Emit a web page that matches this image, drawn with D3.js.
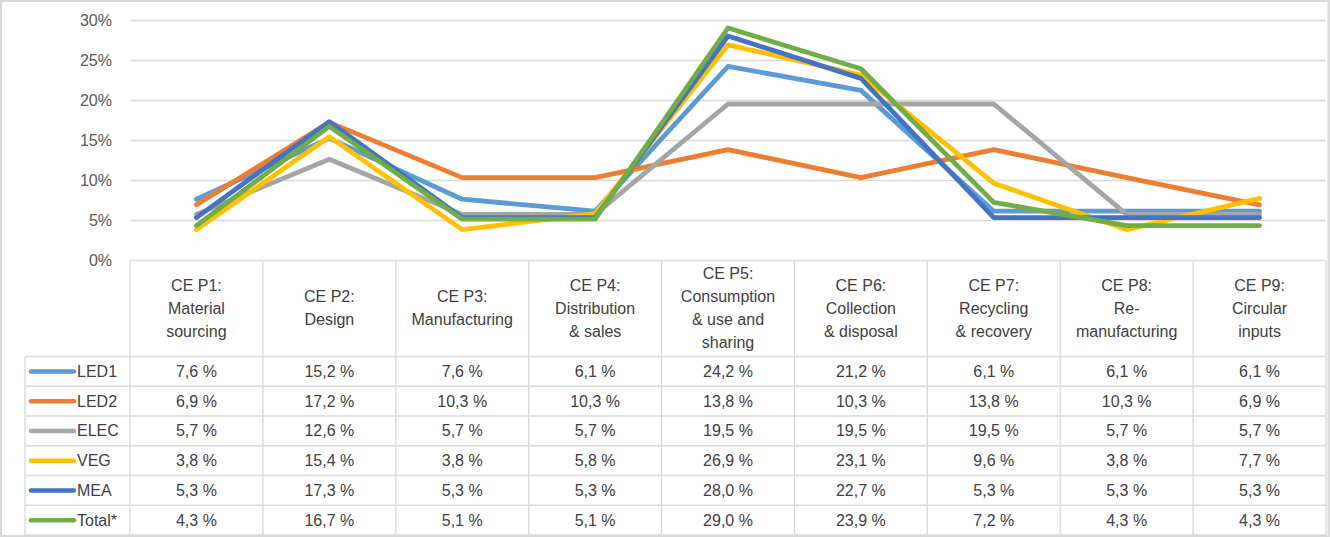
<!DOCTYPE html>
<html><head><meta charset="utf-8">
<script src="https://cdn.jsdelivr.net/npm/d3@7"></script>
<style>body{margin:0;background:#fff}svg{display:block}text{font-family:"Liberation Sans",Arial,sans-serif}</style>
</head><body><svg id="c" width="1330" height="537"></svg>
<script>
const categories = [
  ["CE P1:", "Material", "sourcing"],
  ["CE P2:", "Design"],
  ["CE P3:", "Manufacturing"],
  ["CE P4:", "Distribution", "& sales"],
  ["CE P5:", "Consumption", "& use and", "sharing"],
  ["CE P6:", "Collection", "& disposal"],
  ["CE P7:", "Recycling", "& recovery"],
  ["CE P8:", "Re-", "manufacturing"],
  ["CE P9:", "Circular", "inputs"]
];
const seriesNames = ["LED1", "LED2", "ELEC", "VEG", "MEA", "Total*"];
const seriesColors = ["#5B9BD5", "#ED7D31", "#A5A5A5", "#FFC000", "#4472C4", "#70AD47"];
const LED1 = [7.6, 15.2, 7.6, 6.1, 24.2, 21.2, 6.1, 6.1, 6.1];
const LED2 = [6.9, 17.2, 10.3, 10.3, 13.8, 10.3, 13.8, 10.3, 6.9];
const ELEC = [5.7, 12.6, 5.7, 5.7, 19.5, 19.5, 19.5, 5.7, 5.7];
const VEG = [3.8, 15.4, 3.8, 5.8, 26.9, 23.1, 9.6, 3.8, 7.7];
const MEA = [5.3, 17.3, 5.3, 5.3, 28.0, 22.7, 5.3, 5.3, 5.3];
const Total = [4.3, 16.7, 5.1, 5.1, 29.0, 23.9, 7.2, 4.3, 4.3];
const yTicks = [0, 5, 10, 15, 20, 25, 30];

const series = [LED1, LED2, ELEC, VEG, MEA, Total];
const svg = d3.select("#c");
const grid = "#D9D9D9";
const L = 130, R = 1326, T = 20, B = 260;
const tableBottom = 535, legendLeft = 25, headerBottom = 356.5;

// outer border
svg.append("rect").attr("x",1).attr("y",1).attr("width",1327.5).attr("height",535)
  .attr("fill","none").attr("stroke",grid).attr("stroke-width",2);

const x = d3.scaleBand().domain(d3.range(categories.length)).range([L, R]);
const y = d3.scaleLinear().domain([0, 30]).range([B, T]);

// gridlines
svg.append("g").selectAll("line").data(yTicks.filter(d=>d>0)).join("line")
  .attr("x1",L).attr("x2",R).attr("y1",d=>Math.round(y(d))+0.5).attr("y2",d=>Math.round(y(d))+0.5)
  .attr("stroke",grid).attr("stroke-width",1.3);

// y axis labels
const yAxis = d3.axisLeft(y).tickValues(yTicks).tickFormat(d=>d+"%").tickSize(0).tickPadding(0);
const ga = svg.append("g").attr("transform",`translate(112,0)`).call(yAxis);
ga.select(".domain").remove();
ga.selectAll("text").attr("font-size",16).attr("fill","#595959").attr("font-family","Liberation Sans, Arial, sans-serif");

// table
const rowH = (tableBottom - headerBottom) / seriesNames.length;
const tg = svg.append("g").attr("stroke",grid).attr("stroke-width",1.3);
tg.append("line").attr("x1",L).attr("x2",R).attr("y1",B+0.5).attr("y2",B+0.5);
for (let i=0;i<=seriesNames.length;i++){
  const yy = headerBottom + i*rowH;
  tg.append("line").attr("x1",legendLeft).attr("x2",R).attr("y1",yy).attr("y2",yy);
}
const bounds = d3.range(categories.length).map(i=>x(i)).concat([R]);
bounds.forEach(b=>tg.append("line").attr("x1",b).attr("x2",b).attr("y1",B).attr("y2",tableBottom));
tg.append("line").attr("x1",legendLeft).attr("x2",legendLeft).attr("y1",headerBottom).attr("y2",tableBottom);

// header labels
const lh = 23;
categories.forEach((lines,i)=>{
  const cx = x(i)+x.bandwidth()/2;
  const cy = (B+headerBottom)/2;
  const t = svg.append("text").attr("text-anchor","middle").attr("font-size",16).attr("fill","#404040");
  lines.forEach((ln,k)=>{
    t.append("tspan").attr("x",cx).attr("y",cy + (k-(lines.length-1)/2)*lh).attr("dy","0.35em").text(ln);
  });
});

// value cells and legend
const fmt = v => v.toFixed(1).replace(".",",")+" %";
series.forEach((vals,si)=>{
  const cy = headerBottom + si*rowH + rowH/2;
  svg.append("line").attr("x1",31).attr("x2",74).attr("y1",cy).attr("y2",cy)
    .attr("stroke",seriesColors[si]).attr("stroke-width",4.5).attr("stroke-linecap","round");
  svg.append("text").attr("x",77).attr("y",cy).attr("dy","0.35em").attr("font-size",16).attr("fill","#404040").text(seriesNames[si]);
  vals.forEach((v,i)=>{
    svg.append("text").attr("x",x(i)+x.bandwidth()/2).attr("y",cy).attr("dy","0.35em")
      .attr("text-anchor","middle").attr("font-size",16).attr("fill","#404040").text(fmt(v));
  });
});

// lines
const line = d3.line().x((d,i)=>x(i)+x.bandwidth()/2).y(d=>y(d));
series.forEach((vals,si)=>{
  svg.append("path").datum(vals).attr("d",line).attr("fill","none")
    .attr("stroke",seriesColors[si]).attr("stroke-width",4.8)
    .attr("stroke-linejoin","round").attr("stroke-linecap","round");
});
</script></body></html>
